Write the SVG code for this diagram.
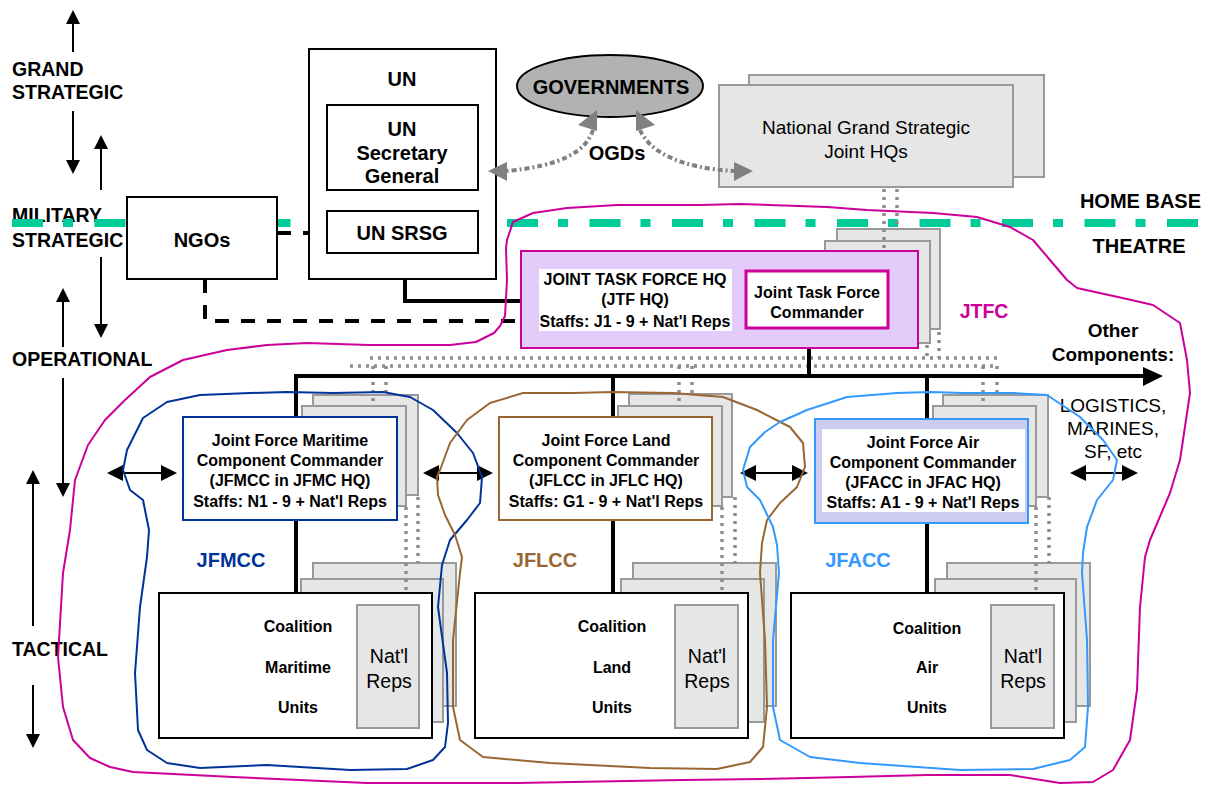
<svg xmlns="http://www.w3.org/2000/svg" width="1208" height="785" viewBox="0 0 1208 785">
<style>
text{font-family:"Liberation Sans",Arial,sans-serif;fill:#000}
.b{font-weight:bold}
.box{fill:#fff;stroke:#000;stroke-width:2}
.stk{fill:#e6e6e6;stroke:#999;stroke-width:2}
.dots{fill:none;stroke:#8c8c8c;stroke-width:3.5;stroke-dasharray:3 5}
.blk{fill:none;stroke:#000;stroke-width:4}
.thin{fill:none;stroke:#000;stroke-width:2}
.outl{fill:none;stroke-width:2;stroke-linejoin:round}
.ogd{fill:none;stroke:#808080;stroke-width:4;stroke-dasharray:5 3 2 3}
</style>

<!-- level labels -->
<g id="levels">
<line class="thin" x1="73" y1="52" x2="73" y2="22"/><polygon points="73,10 66,24 80,24"/>
<line class="thin" x1="73" y1="111" x2="73" y2="162"/><polygon points="73,174 66,160 80,160"/>
<line class="thin" x1="101" y1="190" x2="101" y2="147"/><polygon points="101,135 94,149 108,149"/>
<line class="thin" x1="101" y1="257" x2="101" y2="326"/><polygon points="101,338 94,324 108,324"/>
<line class="thin" x1="63" y1="347" x2="63" y2="300"/><polygon points="63,288 56,302 70,302"/>
<line class="thin" x1="63" y1="378" x2="63" y2="485"/><polygon points="63,497 56,483 70,483"/>
<line class="thin" x1="33" y1="626" x2="33" y2="482"/><polygon points="33,470 26,484 40,484"/>
<line class="thin" x1="33" y1="685" x2="33" y2="736"/><polygon points="33,748 26,734 40,734"/>
<text class="b" x="12" y="76" font-size="19.5">GRAND</text>
<text class="b" x="12" y="99" font-size="19.5">STRATEGIC</text>
<text class="b" x="12" y="222" font-size="19.5">MILITARY</text>
<text class="b" x="12" y="247" font-size="19.5">STRATEGIC</text>
<text class="b" x="12" y="366" font-size="19.5">OPERATIONAL</text>
<text class="b" x="12" y="656" font-size="19.5">TACTICAL</text>
<text class="b" x="1201" y="208" font-size="20" text-anchor="end">HOME BASE</text>
<text class="b" x="1139" y="253" font-size="20" text-anchor="middle">THEATRE</text>
</g>

<!-- home base / theatre boundary -->
<line x1="12" y1="223" x2="1202" y2="223" stroke="#00cc99" stroke-width="8" stroke-dasharray="31 20 10 21.5"/>

<!-- stacked background boxes -->
<g id="stacks">
<rect class="stk" x="749" y="75" width="295" height="102"/>
<rect class="stk" x="837" y="229" width="103" height="100"/>
<rect class="stk" x="825" y="241" width="105" height="102"/>
<rect class="stk" x="313" y="395" width="105" height="100"/>
<rect class="stk" x="302" y="406" width="104" height="100"/>
<rect class="stk" x="629" y="394" width="103" height="103"/>
<rect class="stk" x="618" y="406" width="104" height="100"/>
<rect class="stk" x="943" y="395" width="105" height="102"/>
<rect class="stk" x="933" y="406" width="103" height="100"/>
<rect class="stk" x="313" y="563" width="143" height="143"/>
<rect class="stk" x="301" y="579" width="142" height="143"/>
<rect class="stk" x="633" y="563" width="143" height="143"/>
<rect class="stk" x="621" y="579" width="143" height="143"/>
<rect class="stk" x="947" y="563" width="143" height="143"/>
<rect class="stk" x="935" y="579" width="141" height="143"/>
</g>

<!-- connectors -->
<g id="connectors">
<line class="dots" x1="884" y1="189" x2="884" y2="252"/>
<line class="dots" x1="897" y1="189" x2="897" y2="230"/>
<line class="dots" x1="939" y1="332" x2="939" y2="358"/>
<line class="dots" x1="927" y1="345" x2="927" y2="358"/>
<line class="dots" x1="370" y1="358" x2="998" y2="358"/>
<line class="dots" x1="350" y1="366" x2="998" y2="366"/>
<line class="dots" x1="373" y1="366" x2="373" y2="406"/>
<line class="dots" x1="386" y1="366" x2="386" y2="395"/>
<line class="dots" x1="406" y1="507" x2="406" y2="590"/>
<line class="dots" x1="418" y1="497" x2="418" y2="563"/>
<line class="dots" x1="679" y1="366" x2="679" y2="406"/>
<line class="dots" x1="692" y1="366" x2="692" y2="394"/>
<line class="dots" x1="722" y1="507" x2="722" y2="590"/>
<line class="dots" x1="735" y1="497" x2="735" y2="563"/>
<line class="dots" x1="983" y1="366" x2="983" y2="406"/>
<line class="dots" x1="997" y1="366" x2="997" y2="395"/>
<line class="dots" x1="1036" y1="507" x2="1036" y2="590"/>
<line class="dots" x1="1049" y1="497" x2="1049" y2="563"/>
<line class="blk" x1="405" y1="190" x2="405" y2="211"/>
<polyline class="blk" points="405,253 405,301 521,301" stroke-width="4.5"/>
<line class="blk" x1="277" y1="233" x2="309" y2="233" stroke-width="5" stroke-dasharray="14 12"/>
<polyline class="blk" points="205,279 205,321 520,321" stroke-width="5" stroke-dasharray="14 12"/>
<line class="blk" x1="809" y1="347" x2="809" y2="376"/>
<line class="blk" x1="294" y1="376" x2="1146" y2="376"/>
<polygon points="1163,376 1143,367 1143,386"/>
<line class="blk" x1="296" y1="376" x2="296" y2="594"/>
<line class="blk" x1="613" y1="376" x2="613" y2="594"/>
<line class="blk" x1="927" y1="376" x2="927" y2="594"/>
<g id="lateral">
<line class="thin" x1="118" y1="473" x2="166" y2="473" stroke-width="3"/>
<polygon points="107,473 123,465 123,481"/><polygon points="177,473 161,465 161,481"/>
<line class="thin" x1="434" y1="473" x2="482" y2="473" stroke-width="3"/>
<polygon points="423,473 439,465 439,481"/><polygon points="493,473 477,465 477,481"/>
<line class="thin" x1="751" y1="473" x2="797" y2="473" stroke-width="3"/>
<polygon points="740,473 756,465 756,481"/><polygon points="808,473 792,465 792,481"/>
<line class="thin" x1="1081" y1="473" x2="1127" y2="473" stroke-width="3"/>
<polygon points="1070,473 1086,465 1086,481"/><polygon points="1138,473 1122,465 1122,481"/>
</g>
</g>

<!-- nodes -->
<g id="un">
<rect class="box" x="309" y="49" width="187" height="230"/>
<text class="b" x="402" y="86" font-size="20" text-anchor="middle">UN</text>
</g>
<g id="un-sg">
<rect class="box" x="327" y="105" width="151" height="85"/>
<text class="b" x="402" y="136" font-size="20" text-anchor="middle">UN</text>
<text class="b" x="402" y="160" font-size="20" text-anchor="middle">Secretary</text>
<text class="b" x="402" y="183" font-size="20" text-anchor="middle">General</text>
</g>
<g id="un-srsg">
<rect class="box" x="327" y="211" width="151" height="42"/>
<text class="b" x="402" y="240" font-size="20" text-anchor="middle">UN SRSG</text>
</g>
<g id="ngos">
<rect class="box" x="127" y="197" width="150" height="82"/>
<text class="b" x="202" y="247" font-size="20" text-anchor="middle">NGOs</text>
</g>
<g id="governments">
<ellipse cx="610" cy="86" rx="93" ry="31" fill="#b2b2b2" stroke="#000" stroke-width="2"/>
<text class="b" x="611" y="94" font-size="20" text-anchor="middle">GOVERNMENTS</text>
</g>
<g id="national-hq">
<rect class="stk" x="719" y="85" width="294" height="102"/>
<text x="866" y="134" font-size="19" text-anchor="middle">National Grand Strategic</text>
<text x="866" y="158" font-size="19" text-anchor="middle">Joint HQs</text>
</g>
<g id="ogd-links">
<path class="ogd" d="M593,130 C586,152 560,166 507,171"/>
<path class="ogd" d="M640,130 C650,152 680,168 734,171"/>
<polygon points="488,171 507,162 507,181" fill="#808080"/>
<polygon points="597,110 578,125 597,131" fill="#808080"/>
<polygon points="753,171 734,162 734,181" fill="#808080"/>
<polygon points="636,110 655,125 636,131" fill="#808080"/>
</g>
<text class="b" x="617" y="160" font-size="20" text-anchor="middle">OGDs</text>

<g id="jtf-hq">
<rect x="521" y="251" width="397" height="97" fill="#e3ccfa" stroke="#cc0099" stroke-width="2"/>
<rect x="539" y="269" width="193" height="62" fill="#fff"/>
<text class="b" x="635" y="285" font-size="16" text-anchor="middle">JOINT TASK FORCE HQ</text>
<text class="b" x="635" y="305" font-size="16" text-anchor="middle">(JTF HQ)</text>
<text class="b" x="635" y="327" font-size="16" text-anchor="middle">Staffs: J1 - 9 + Nat'l Reps</text>
</g>
<g id="jtf-commander">
<rect x="746" y="271" width="142" height="57" fill="#fff" stroke="#cc0099" stroke-width="3"/>
<text class="b" x="817" y="298" font-size="16" text-anchor="middle">Joint Task Force</text>
<text class="b" x="817" y="318" font-size="16" text-anchor="middle">Commander</text>
</g>
<text class="b" x="984" y="318" font-size="19.5" style="fill:#cc0099" text-anchor="middle">JTFC</text>
<g id="other">
<text class="b" x="1113" y="337" font-size="19" text-anchor="middle">Other</text>
<text class="b" x="1113" y="361" font-size="19" text-anchor="middle">Components:</text>
<text x="1113" y="412" font-size="19" text-anchor="middle">LOGISTICS,</text>
<text x="1113" y="435" font-size="19" text-anchor="middle">MARINES,</text>
<text x="1113" y="458" font-size="19" text-anchor="middle">SF, etc</text>
</g>

<g id="jfmcc">
<rect x="183" y="417" width="214" height="103" fill="#fff" stroke="#003399" stroke-width="2"/>
<text class="b" x="290" y="446" font-size="16" text-anchor="middle">Joint Force Maritime</text>
<text class="b" x="290" y="466" font-size="16" text-anchor="middle">Component Commander</text>
<text class="b" x="290" y="486" font-size="16" text-anchor="middle">(JFMCC in JFMC HQ)</text>
<text class="b" x="290" y="507" font-size="16" text-anchor="middle">Staffs: N1 - 9 + Nat'l Reps</text>
</g>
<g id="jflcc">
<rect x="499" y="417" width="213" height="103" fill="#fff" stroke="#996633" stroke-width="2"/>
<text class="b" x="606" y="446" font-size="16" text-anchor="middle">Joint Force Land</text>
<text class="b" x="606" y="466" font-size="16" text-anchor="middle">Component Commander</text>
<text class="b" x="606" y="486" font-size="16" text-anchor="middle">(JFLCC in JFLC HQ)</text>
<text class="b" x="606" y="507" font-size="16" text-anchor="middle">Staffs: G1 - 9 + Nat'l Reps</text>
</g>
<g id="jfacc">
<rect x="815" y="419" width="213" height="104" fill="#ccccf0" stroke="#3399ff" stroke-width="2"/>
<rect x="822" y="429" width="203" height="83" fill="#fff"/>
<text class="b" x="923" y="448" font-size="16" text-anchor="middle">Joint Force Air</text>
<text class="b" x="923" y="468" font-size="16" text-anchor="middle">Component Commander</text>
<text class="b" x="923" y="488" font-size="16" text-anchor="middle">(JFACC in JFAC HQ)</text>
<text class="b" x="923" y="508" font-size="16" text-anchor="middle">Staffs: A1 - 9 + Nat'l Reps</text>
</g>
<text class="b" x="231" y="567" font-size="20" style="fill:#003399" text-anchor="middle">JFMCC</text>
<text class="b" x="545" y="567" font-size="20" style="fill:#996633" text-anchor="middle">JFLCC</text>
<text class="b" x="858" y="567" font-size="20" style="fill:#3399ff" text-anchor="middle">JFACC</text>

<g id="maritime-units">
<rect class="box" x="159" y="593" width="273" height="145"/>
<rect class="stk" x="357" y="605" width="62" height="123"/>
<text class="b" x="298" y="632" font-size="16" text-anchor="middle">Coalition</text>
<text class="b" x="298" y="673" font-size="16" text-anchor="middle">Maritime</text>
<text class="b" x="298" y="713" font-size="16" text-anchor="middle">Units</text>
<text x="389" y="663" font-size="19.5" text-anchor="middle">Nat'l</text>
<text x="389" y="688" font-size="19.5" text-anchor="middle">Reps</text>
</g>
<g id="land-units">
<rect class="box" x="475" y="593" width="273" height="145"/>
<rect class="stk" x="675" y="605" width="63" height="123"/>
<text class="b" x="612" y="632" font-size="16" text-anchor="middle">Coalition</text>
<text class="b" x="612" y="673" font-size="16" text-anchor="middle">Land</text>
<text class="b" x="612" y="713" font-size="16" text-anchor="middle">Units</text>
<text x="707" y="663" font-size="19.5" text-anchor="middle">Nat'l</text>
<text x="707" y="688" font-size="19.5" text-anchor="middle">Reps</text>
</g>
<g id="air-units">
<rect class="box" x="791" y="593" width="273" height="145"/>
<rect class="stk" x="991" y="605" width="63" height="123"/>
<text class="b" x="927" y="634" font-size="16" text-anchor="middle">Coalition</text>
<text class="b" x="927" y="673" font-size="16" text-anchor="middle">Air</text>
<text class="b" x="927" y="713" font-size="16" text-anchor="middle">Units</text>
<text x="1023" y="663" font-size="19.5" text-anchor="middle">Nat'l</text>
<text x="1023" y="688" font-size="19.5" text-anchor="middle">Reps</text>
</g>

<!-- hand-drawn grouping outlines -->
<g id="outlines">
<path class="outl" stroke="#cc0099" d="M507,240 L513,222 L533,213 L567,208 L617,205 L700,205 L740,204 L827,207 L867,210 L933,213 L977,217 L1010,227 L1033,240 L1050,260 L1067,280 L1077,288 L1127,299 L1153,305 L1180,323 L1187,360 L1190,393 L1180,460 L1170,493 L1150,540 L1145,557 L1140,607 L1137,690 L1130,740 L1113,770 L1093,782 L1060,783 L1010,775 L927,775 L850,777 L760,779 L683,780 L517,783 L367,783 L233,777 L133,772 L110,767 L90,758 L73,740 L63,707 L58,657 L63,573 L70,530 L75,480 L88,445 L105,420 L125,400 L150,377 L183,360 L227,350 L267,345 L307,343 L369,345 L450,345 L476,342 L494,333 L500,326 L505,316 L507,280 L506,248 Z"/>
<path class="outl" stroke="#003399" d="M143,418 L167,402 L200,395 L250,393 L287,392 L333,393 L383,392 L410,397 L433,410 L457,433 L473,453 L482,477 L480,503 L467,520 L450,540 L442,565 L438,607 L447,673 L448,723 L445,747 L433,760 L407,769 L350,770 L267,765 L200,768 L167,763 L147,750 L138,730 L135,673 L140,607 L147,557 L149,530 L143,500 L130,490 L123,470 L127,450 L137,430 Z"/>
<path class="outl" stroke="#996633" d="M440,470 L450,443 L467,420 L490,403 L523,393 L573,393 L613,392 L673,393 L723,397 L757,410 L790,427 L803,443 L805,467 L797,487 L780,503 L767,520 L762,543 L760,573 L765,640 L767,707 L763,747 L750,762 L717,769 L650,768 L550,763 L483,757 L460,740 L453,707 L453,640 L460,573 L462,557 L455,535 L445,515 L438,495 L437,477 Z"/>
<path class="outl" stroke="#3399ff" d="M743,470 L750,447 L765,432 L780,422 L807,410 L847,397 L897,393 L930,392 L963,393 L1013,393 L1047,395 L1080,417 L1103,440 L1117,460 L1113,480 L1097,500 L1087,527 L1083,553 L1082,573 L1087,640 L1088,707 L1085,747 L1070,760 L1033,769 L960,770 L860,763 L810,757 L780,740 L773,707 L773,640 L779,573 L777,545 L773,527 L760,500 L747,487 Z"/>
</g>
</svg>
